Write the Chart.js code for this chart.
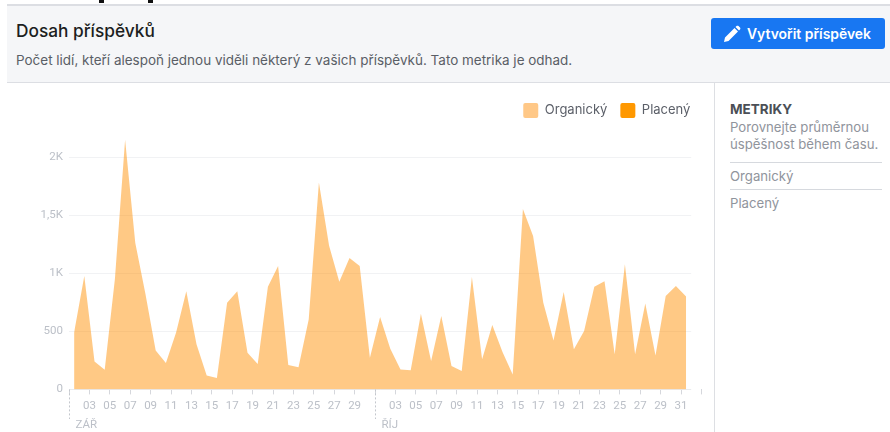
<!DOCTYPE html>
<html lang="cs"><head><meta charset="utf-8">
<script src="https://cdn.jsdelivr.net/npm/chart.js@4"></script>
<style>
html,body{margin:0;padding:0;background:#fff;width:890px;height:432px;overflow:hidden;font-family:Inter,"Liberation Sans",sans-serif}
.abs{position:absolute;white-space:nowrap}
#head{left:7px;right:0;top:4px;height:76px;background:#f5f6f8;border-top:2px solid #dcdee3;border-bottom:1px solid #dcdee3;box-sizing:content-box}
#title{left:16px;top:20px;font-size:17.3px;font-weight:500;color:#1c1e21}
#sub{left:16px;top:52px;font-size:13.47px;color:#5a5e66}
#btn{left:711px;top:18px;width:174px;height:31px;background:#1877f2;border-radius:3px;color:#fff;font-size:13.9px;font-weight:600}
#btn svg{position:absolute;left:12px;top:7px}
#btn span{position:absolute;left:36px;top:8px}
#side{left:714px;top:83px;bottom:0;width:1px;background:#dddfe3}
.s{left:730px;font-size:13.2px;color:#90949c}
.hr{left:730px;width:152px;height:1px;background:#d6d9de}
.stub{top:0;width:5px;height:3px;background:#111}
canvas{position:absolute;left:0;top:0}
</style></head><body>
<div class="abs" id="head"></div>
<div class="abs stub" style="left:99px"></div>
<div class="abs stub" style="left:148px"></div>
<div class="abs" id="title">Dosah příspěvků</div>
<div class="abs" id="sub">Počet lidí, kteří alespoň jednou viděli některý z vašich příspěvků. Tato metrika je odhad.</div>
<div class="abs" id="btn"><svg width="18" height="18" viewBox="0 0 18 18"><path fill="#fff" d="M1 17l1-4.500L11.500 3l3.500 3.500L5.500 16zM12.500 2l1-1c.6-.5 1.400-.5 2 0l1.500 1.500c.5.6.5 1.400 0 2l-1 1z"/></svg><span>Vytvořit příspěvek</span></div>
<div class="abs" id="side"></div>
<div class="abs s" style="top:101px;font-size:13.5px;font-weight:700;color:#4b4f56">METRIKY</div>
<div class="abs s" style="top:119px">Porovnejte průměrnou</div>
<div class="abs s" style="top:136px">úspěšnost během času.</div>
<div class="abs hr" style="top:162px"></div>
<div class="abs s" style="top:168px">Organický</div>
<div class="abs hr" style="top:189px"></div>
<div class="abs s" style="top:195px">Placený</div>
<canvas id="c" width="890" height="432"></canvas>
<script>
const seriesNames = ["Organický", "Placený"];
const organicky = [490,977,241,170,950,2150,1260,820,336,227,490,845,388,120,98,747,845,316,218,885,1063,210,190,603,1782,1236,928,1132,1063,273,
  624,350,172,164,652,244,632,201,158,968,259,555,322,129,1553,1322,747,422,839,345,503,885,931,302,1078,302,739,293,805,891,799];
const placeny = [];
const dayLabels = ["","03","05","07","09","11","13","15","17","19","21","23","25","27","29","","03","05","07","09","11","13","15","17","19","21","23","25","27","29","31",""];
const yTicks = [0,500,1000,1500,2000];
const yLabels = ["0","500","1K","1,5K","2K"];
const months = [{at:0,name:"ZÁŘ"},{at:30,name:"ŘÍJ"}];

const grey = "#bcc0c8";
const overlay = {
  id:"overlay",
  beforeDatasetsDraw(ch){
    const g=ch.ctx,y=ch.scales.y,x=ch.scales.x;
    g.save();g.lineWidth=1;
    yTicks.forEach(v=>{
      const p=Math.round(y.getPixelForValue(v))+.5;
      g.strokeStyle=v===0?"#e9ebee":"#f1f2f4";
      g.beginPath();g.moveTo(x.left,p);g.lineTo(x.getPixelForValue(organicky.length),p);g.stroke();
    });
    g.restore();
  },
  afterDraw(ch){
    const g=ch.ctx,x=ch.scales.x,y=ch.scales.y;
    g.save();
    months.forEach(m=>{
      const p=Math.round(x.getPixelForValue(m.at))+.5;
      g.strokeStyle="#c4c7cd";g.setLineDash([2,2]);g.lineWidth=1;
      g.beginPath();g.moveTo(p,y.bottom);g.lineTo(p,419);g.stroke();
      g.fillStyle=grey;g.font="11.5px Roboto";g.textAlign="left";g.textBaseline="middle";
      g.fillText(m.name,p+6,425.5);
    });
    g.restore();
  }
};
new Chart(document.getElementById("c"),{
  type:"line",
  data:{datasets:[
    {label:seriesNames[0],data:organicky.map((v,i)=>({x:i+.5,y:v})),fill:"origin",backgroundColor:"rgba(255,142,0,.48)",borderWidth:0,borderColor:"rgba(0,0,0,0)",pointRadius:0,tension:0},
    {label:seriesNames[1],data:placeny,backgroundColor:"#ff9800",borderColor:"#ff9800",borderWidth:0,pointRadius:0}
  ]},
  options:{
    responsive:false,animation:false,
    layout:{padding:{left:0,right:186.6,top:90,bottom:0}},
    plugins:{
      tooltip:{enabled:false},
      legend:{position:"top",align:"end",
        labels:{boxWidth:15,boxHeight:15,padding:13,color:"#5b5f68",font:{family:"Inter",size:13},
          generateLabels(ch){return ch.data.datasets.map((d,i)=>({text:d.label,fillStyle:i?"#ff9800":"#ffc887",strokeStyle:"transparent",lineWidth:0,fontColor:"#5b5f68",datasetIndex:i,borderRadius:2}));}
        }
      }
    },
    scales:{
      x:{type:"linear",min:0,max:62.196,
        afterBuildTicks(s){s.ticks=dayLabels.map((_,i)=>({value:i*2}));},
        afterFit(s){s.height=42.6;},
        border:{display:false},
        grid:{drawOnChartArea:false,drawTicks:true,tickLength:5,color:"#d5d7dc",tickColor:"#d5d7dc"},
        ticks:{autoSkip:false,maxRotation:0,padding:5,color:grey,font:{family:"Roboto",size:11.5},callback(v){return dayLabels[Math.round(v/2)];}}
      },
      y:{type:"linear",min:0,max:2251,
        afterBuildTicks(s){s.ticks=yTicks.map(v=>({value:v}));},
        afterFit(s){s.width=69;},
        border:{display:false},
        grid:{display:true,drawOnChartArea:false,drawTicks:false},
        ticks:{color:grey,padding:6,font:{family:"Roboto",size:11.5},callback(v){return yLabels[yTicks.indexOf(v)];}}
      }
    }
  },
  plugins:[overlay]
});
</script>
</body></html>
